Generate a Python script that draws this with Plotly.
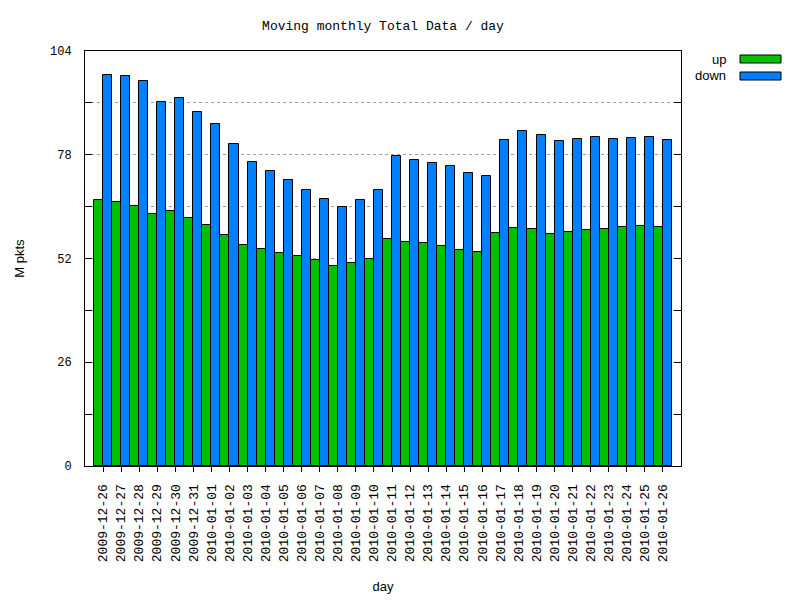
import plotly.graph_objects as go

days = ["2009-12-26", "2009-12-27", "2009-12-28", "2009-12-29", "2009-12-30", "2009-12-31",
        "2010-01-01", "2010-01-02", "2010-01-03", "2010-01-04", "2010-01-05", "2010-01-06",
        "2010-01-07", "2010-01-08", "2010-01-09", "2010-01-10", "2010-01-11", "2010-01-12",
        "2010-01-13", "2010-01-14", "2010-01-15", "2010-01-16", "2010-01-17", "2010-01-18",
        "2010-01-19", "2010-01-20", "2010-01-21", "2010-01-22", "2010-01-23", "2010-01-24",
        "2010-01-25", "2010-01-26"]

up = [66.6, 66.1, 65.1, 63.1, 63.8, 62.1, 60.3, 57.8, 55.3, 54.3, 53.3, 52.6,
      51.6, 50.0, 50.8, 51.8, 56.8, 56.1, 55.8, 55.1, 54.1, 53.6, 58.3, 59.6,
      59.3, 58.1, 58.6, 59.1, 59.3, 59.8, 60.1, 59.8]

down = [97.9, 97.7, 96.4, 91.2, 92.2, 88.6, 85.6, 80.6, 76.1, 73.9, 71.6, 69.1,
        66.8, 64.8, 66.6, 69.1, 77.6, 76.6, 75.9, 75.1, 73.4, 72.6, 81.6, 83.9,
        82.9, 81.4, 81.9, 82.4, 81.9, 82.1, 82.4, 81.6]

series_names = ["up", "down"]
series_colors = ["#00c000", "#0080ff"]

y_tickvals = [0, 13, 26, 39, 52, 65, 78, 91, 104]
y_ticktext = ["0", "", "26", "", "52", "", "78", "", "104"]

MONO = "Liberation Mono"
SANS = "Liberation Sans"

fig = go.Figure()
for name, vals, col in zip(series_names, [up, down], series_colors):
    fig.add_trace(go.Bar(
        x=days, y=vals, name=name,
        marker=dict(color=col, line=dict(color="black", width=1)),
        showlegend=False,
    ))

fig.update_layout(
    width=800, height=600,
    margin=dict(l=85, r=119, t=51, b=134, autoexpand=False),
    paper_bgcolor="white", plot_bgcolor="white",
    barmode="group", bargap=0, bargroupgap=0,
    title=dict(text="Moving monthly Total Data / day", x=0.5, xref="paper",
               y=1 - 25 / 600, yanchor="middle",
               font=dict(family=MONO, size=13, color="black")),
    font=dict(family=SANS, size=13, color="black"),
)

fig.update_xaxes(
    type="category", categoryorder="array", categoryarray=days,
    range=[-1, 32], automargin=False,
    showline=True, linecolor="black", linewidth=1, mirror=True,
    ticks="outside", ticklen=5, tickcolor="black",
    tickangle=-90, tickfont=dict(family=MONO, size=13, color="black"),
    ticklabelstandoff=7,
    showgrid=False, zeroline=False,
    title=dict(text="day", standoff=20, font=dict(family=SANS, size=13)),
)

fig.update_yaxes(
    range=[0, 104], automargin=False,
    tickvals=y_tickvals, ticktext=y_ticktext,
    showline=True, linecolor="black", linewidth=1, mirror="ticks",
    ticks="inside", ticklen=7, tickcolor="black",
    tickfont=dict(family=MONO, size=12, color="black"),
    ticklabelstandoff=10,
    showgrid=True, gridcolor="#a0a0a0", griddash="3px,3px", gridwidth=1,
    zeroline=False,
    title=dict(text="M pkts", standoff=22, font=dict(family=SANS, size=13)),
)

# legend (text left, swatch right, gnuplot style)
for i, (name, col) in enumerate(zip(series_names, series_colors)):
    yc = 1 + (51 - 59 - 17 * i) / 415.0
    fig.add_annotation(text=name, xref="paper", yref="paper",
                       x=(728 - 85) / 596.0, y=yc, xanchor="right", yanchor="middle",
                       showarrow=False, font=dict(family=SANS, size=13, color="black"))
    fig.add_shape(type="rect", xref="paper", yref="paper",
                  x0=(740 - 85) / 596.0, x1=(781 - 85) / 596.0,
                  y0=yc - 4 / 415.0, y1=yc + 4 / 415.0,
                  fillcolor=col, line=dict(color="black", width=1))

fig.write_html("out.html")
